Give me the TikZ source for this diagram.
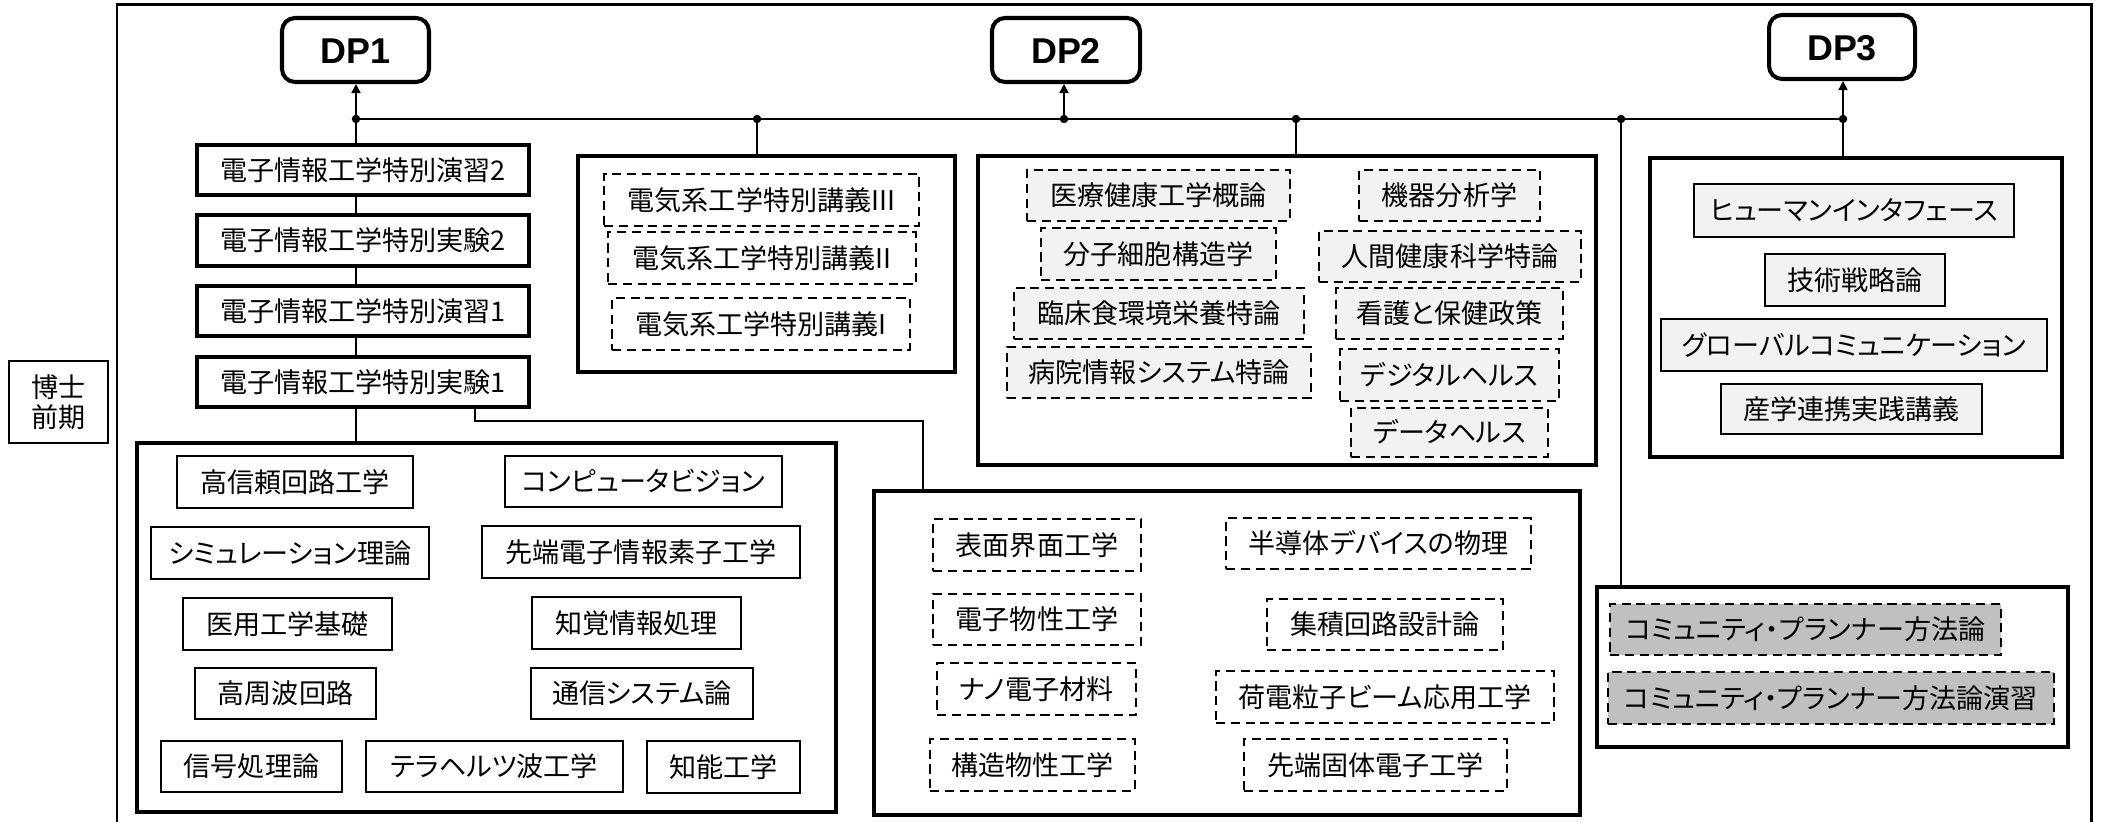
\documentclass[tikz,border=0pt]{standalone}
\usepackage{fontspec}
\setmainfont{Noto Sans CJK JP}[RawFeature=+palt]
\newfontfamily\dpfont{Liberation Sans}
\usepackage{xcolor}
\usetikzlibrary{arrows.meta}
\definecolor{lightfill}{RGB}{242,242,242}
\definecolor{darkfill}{RGB}{192,192,192}

\tikzset{
  box/.style n args={4}{at={({(#1+#3)/2},{(#2+#4)/2})},
    minimum width={(#3-#1)*0.01cm}, minimum height={(#4-#2)*0.01cm}},
  grp/.style={draw, line width=1.15pt, inner sep=0pt},
  dpbox/.style={draw, line width=1.15pt, rounded corners=3.7pt, inner sep=0pt,
    text height=7.4pt, text depth=0pt,
    font=\dpfont\bfseries\fontsize{10.2pt}{11pt}\selectfont},
  core/.style={draw, line width=1.4pt, inner sep=0pt, text height=6.8pt, text depth=0.9pt},
  crs/.style={draw, line width=0.6pt, inner sep=0pt, text height=6.8pt, text depth=0.9pt},
  dcrs/.style={crs, line width=0.7pt, dash pattern=on 2.6pt off 1.6pt},
  lvlbox/.style={draw, line width=0.6pt, inner sep=0pt, align=center,
    font=\fontsize{7.7pt}{8.6pt}\selectfont},
  link/.style={line width=0.45pt},
}

\begin{document}
\begin{tikzpicture}[x={(0.01cm,0cm)}, y={(0cm,-0.01cm)}, >={Triangle[length=2.6pt,width=2.6pt]},
  font=\fontsize{7.7pt}{9pt}\selectfont]
    \useasboundingbox (0,0) rectangle (2107,822);

    % Outer frame and level label
    \draw[line width=0.85pt] (117,822) -- (117,5) -- (2091,5) -- (2091,822);
    \node[lvlbox, box={9}{361}{108}{443}] (lvl) {博士\\前期};

    % Diploma policies
    \node[dpbox, box={282}{18}{429}{82}] (dp1) {DP1};
    \node[dpbox, box={992}{18}{1140}{82}] (dp2) {DP2};
    \node[dpbox, box={1769}{15}{1915}{79}] (dp3) {DP3};

    % Bus junctions
    \coordinate (j1) at (356,119);
    \coordinate (j2) at (757,119);
    \coordinate (j3) at (1064,119);
    \coordinate (j4) at (1296,119);
    \coordinate (j5) at (1621,119);
    \coordinate (j6) at (1843,119);

    % Core courses (DP1)
    \node[core, box={197}{145}{529}{195}] (c4) {電子情報工学特別演習2};
    \node[core, box={197}{215}{529}{266}] (c3) {電子情報工学特別実験2};
    \node[core, box={197}{286}{529}{336}] (c2) {電子情報工学特別演習1};
    \node[core, box={197}{357}{529}{407}] (c1) {電子情報工学特別実験1};

    % Group boxes
    \node[grp, box={137}{443}{836}{812}] (g1) {};
    \node[grp, box={578}{156}{955}{372}] (g2) {};
    \node[grp, box={978}{156}{1596}{465}] (g3) {};
    \node[grp, box={874}{491}{1580}{815}] (g4) {};
    \node[grp, box={1650}{158}{2062}{457}] (g5) {};
    \node[grp, box={1597}{587}{2068}{747}] (g6) {};

    % Group 1
    \node[crs, box={177}{456}{413}{508}] (a1) {高信頼回路工学};
    \node[crs, box={505}{456}{782}{507}] (a2) {コンピュータビジョン};
    \node[crs, box={151}{527}{429}{579}] (a3) {シミュレーション理論};
    \node[crs, box={482}{526}{800}{578}] (a4) {先端電子情報素子工学};
    \node[crs, box={183}{598}{392}{650}] (a5) {医用工学基礎};
    \node[crs, box={532}{597}{741}{649}] (a6) {知覚情報処理};
    \node[crs, box={195}{668}{376}{719}] (a7) {高周波回路};
    \node[crs, box={531}{668}{753}{719}] (a8) {通信システム論};
    \node[crs, box={161}{741}{342}{792}] (a9) {信号処理論};
    \node[crs, box={366}{741}{623}{792}] (a10) {テラヘルツ波工学};
    \node[crs, box={647}{741}{800}{793}] (a11) {知能工学};

    % Group 2
    \node[dcrs, box={604}{174}{919}{226}] (b1) {電気系工学特別講義III};
    \node[dcrs, box={608}{232}{916}{284}] (b2) {電気系工学特別講義II};
    \node[dcrs, box={612}{298}{910}{350}] (b3) {電気系工学特別講義I};

    % Group 3
    \node[dcrs, fill=lightfill, box={1027}{170}{1290}{221}] (h1) {医療健康工学概論};
    \node[dcrs, fill=lightfill, box={1041}{228}{1276}{280}] (h2) {分子細胞構造学};
    \node[dcrs, fill=lightfill, box={1014}{288}{1304}{339}] (h3) {臨床食環境栄養特論};
    \node[dcrs, fill=lightfill, box={1007}{347}{1311}{398}] (h4) {病院情報システム特論};
    \node[dcrs, fill=lightfill, box={1359}{170}{1540}{221}] (h5) {機器分析学};
    \node[dcrs, fill=lightfill, box={1319}{231}{1581}{282}] (h6) {人間健康科学特論};
    \node[dcrs, fill=lightfill, box={1336}{288}{1563}{339}] (h7) {看護と保健政策};
    \node[dcrs, fill=lightfill, box={1340}{349}{1559}{401}] (h8) {デジタルヘルス};
    \node[dcrs, fill=lightfill, box={1351}{408}{1548}{457}] (h9) {データヘルス};

    % Group 4
    \node[dcrs, box={933}{519}{1141}{571}] (e1) {表面界面工学};
    \node[dcrs, box={933}{594}{1141}{645}] (e2) {電子物性工学};
    \node[dcrs, box={937}{663}{1136}{715}] (e3) {ナノ電子材料};
    \node[dcrs, box={930}{739}{1135}{791}] (e4) {構造物性工学};
    \node[dcrs, box={1226}{518}{1531}{569}] (e5) {半導体デバイスの物理};
    \node[dcrs, box={1267}{599}{1503}{650}] (e6) {集積回路設計論};
    \node[dcrs, box={1216}{671}{1554}{723}] (e7) {荷電粒子ビーム応用工学};
    \node[dcrs, box={1244}{739}{1507}{791}] (e8) {先端固体電子工学};

    % Group 5
    \node[crs, fill=lightfill, box={1694}{184}{2014}{237}] (s1) {ヒューマンインタフェース};
    \node[crs, fill=lightfill, box={1765}{254}{1945}{306}] (s2) {技術戦略論};
    \node[crs, fill=lightfill, box={1661}{319}{2047}{371}] (s3) {グローバルコミュニケーション};
    \node[crs, fill=lightfill, box={1721}{384}{1982}{434}] (s4) {産学連携実践講義};

    % Group 6
    \node[dcrs, fill=darkfill, box={1610}{604}{2001}{655}] (p1) {コミュニティ・プランナー方法論};
    \node[dcrs, fill=darkfill, box={1608}{672}{2054}{724}] (p2) {コミュニティ・プランナー方法論演習};

    % Connectors
    \draw[line width=0.55pt] (j1) -- (j6);
    \foreach \j/\d in {j1/dp1, j3/dp2, j6/dp3}
        \draw[link, ->] (\j) -- (\j |- \d.south);
    \draw[link] (j1) -- (j1 |- c4.north);
    \foreach \a/\b in {c4/c3, c3/c2, c2/c1, c1/g1}
        \draw[link] (j1 |- \a.south) -- (j1 |- \b.north);
    \foreach \j/\g in {j2/g2, j4/g3, j5/g6, j6/g5}
        \draw[link] (\j) -- (\j |- \g.north);
    \coordinate (bend) at (475,421);
    \coordinate (drop) at (923,421);
    \draw[link] (c1.south -| bend) -- (bend) -- (drop) -- (drop |- g4.north);
    \foreach \j in {j1,j2,j3,j4,j5,j6}
        \fill (\j) circle[radius=1.2pt];
\end{tikzpicture}
\end{document}
